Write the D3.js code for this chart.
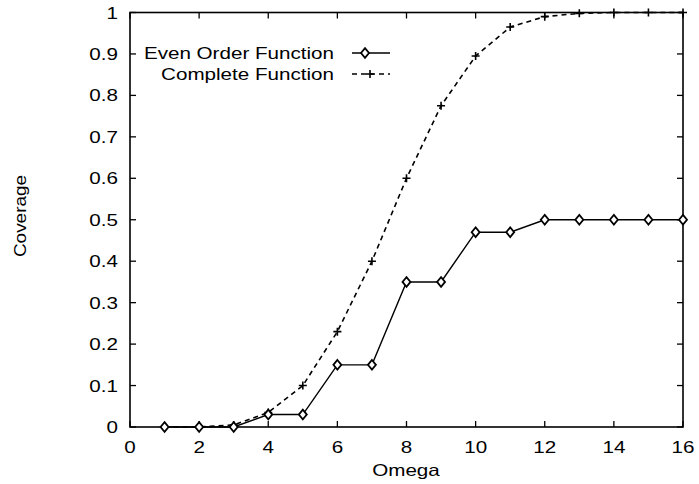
<!DOCTYPE html>
<html>
<head>
<meta charset="utf-8">
<script src="https://cdn.jsdelivr.net/npm/d3@7"></script>
<style>
  body { margin: 0; background: #fff; }
  svg { display: block; }
  .lbl { font-family: 'Liberation Sans', Arial, sans-serif; font-size: 16.5px; fill: #000; }
</style>
</head>
<body>
<svg class="chart" width="699" height="484"></svg>
<script>
const omega = [1, 2, 3, 4, 5, 6, 7, 8, 9, 10, 11, 12, 13, 14, 15, 16];
const evenOrder = [0, 0, 0, 0.03, 0.03, 0.15, 0.15, 0.35, 0.35, 0.47, 0.47, 0.5, 0.5, 0.5, 0.5, 0.5];
const complete = [0, 0, 0.005, 0.035, 0.1, 0.23, 0.4, 0.6, 0.775, 0.895, 0.965, 0.99, 0.998, 1, 1, 1];
const xTicks = [0, 2, 4, 6, 8, 10, 12, 14, 16];
const yTicks = [0, 0.1, 0.2, 0.3, 0.4, 0.5, 0.6, 0.7, 0.8, 0.9, 1];
const seriesNames = ['Even Order Function', 'Complete Function'];

const stretch = 1.25;

// fonts are narrower than the scanned Helvetica, so stretch text horizontally
const addText = (g, x, y, str, anchor) => g.append('text')
  .classed('lbl', true)
  .attr('text-anchor', anchor)
  .attr('transform', `translate(${x}, ${y}) scale(${stretch}, 1)`)
  .text(str);

const startApp = () => {
  const svg = d3.select('.chart');
  const plot = { left: 130, right: 683, top: 12.5, bottom: 427 };
  const xScale = d3.scaleLinear().domain([0, 16]).range([plot.left, plot.right]);
  const yScale = d3.scaleLinear().domain([0, 1]).range([plot.bottom, plot.top]);
  const tick = 6;

  // frame
  svg.append('rect')
    .attr('x', plot.left).attr('y', plot.top)
    .attr('width', plot.right - plot.left).attr('height', plot.bottom - plot.top)
    .attr('fill', 'none').attr('stroke', '#000').attr('stroke-width', 1.6);

  // inward ticks on all sides
  const ticks = svg.append('g').attr('stroke', '#000').attr('stroke-width', 1.3);
  xTicks.forEach((v) => {
    ticks.append('line').attr('x1', xScale(v)).attr('x2', xScale(v))
      .attr('y1', plot.bottom).attr('y2', plot.bottom - tick);
    ticks.append('line').attr('x1', xScale(v)).attr('x2', xScale(v))
      .attr('y1', plot.top).attr('y2', plot.top + tick);
    addText(svg, xScale(v), plot.bottom + 26, v, 'middle');
  });
  yTicks.forEach((v) => {
    ticks.append('line').attr('y1', yScale(v)).attr('y2', yScale(v))
      .attr('x1', plot.left).attr('x2', plot.left + tick);
    ticks.append('line').attr('y1', yScale(v)).attr('y2', yScale(v))
      .attr('x1', plot.right).attr('x2', plot.right - tick);
    addText(svg, 118, yScale(v) + 6, v === 0 || v === 1 ? v : v.toFixed(1), 'end');
  });

  addText(svg, 406, 476, 'Omega', 'middle');
  svg.append('text')
    .classed('lbl', true)
    .attr('text-anchor', 'middle')
    .attr('transform', `translate(26, 216) rotate(-90) scale(1.15, 1)`)
    .text('Coverage');

  const line = d3.line()
    .x((d, i) => xScale(omega[i]))
    .y((d) => yScale(d));

  svg.append('path').datum(complete)
    .attr('d', line).attr('fill', 'none').attr('stroke', '#000')
    .attr('stroke-width', 1.6).attr('stroke-dasharray', '5,4');
  svg.append('path').datum(evenOrder)
    .attr('d', line).attr('fill', 'none').attr('stroke', '#000')
    .attr('stroke-width', 1.4);

  const diamond = d3.symbol().type(d3.symbolDiamond).size(30);

  const drawPlus = (g, x, y) => g.append('path')
    .attr('d', `M${x - 4},${y}H${x + 4}M${x},${y - 4}V${y + 4}`)
    .attr('stroke', '#000').attr('stroke-width', 1.6);
  const drawDiamond = (g, x, y) => g.append('path')
    .attr('d', diamond())
    .attr('transform', `translate(${x}, ${y}) scale(1.35, 0.95)`)
    .attr('fill', '#fff').attr('stroke', '#000').attr('stroke-width', 1.5);

  const marks = svg.append('g');
  complete.forEach((v, i) => drawPlus(marks, xScale(omega[i]), yScale(v)));
  evenOrder.forEach((v, i) => drawDiamond(marks, xScale(omega[i]), yScale(v)));

  // legend
  addText(svg, 334, 59, seriesNames[0], 'end');
  addText(svg, 334, 80, seriesNames[1], 'end');
  svg.append('line').attr('x1', 352).attr('x2', 390).attr('y1', 53).attr('y2', 53)
    .attr('stroke', '#000').attr('stroke-width', 1.4);
  drawDiamond(svg, 365, 53);
  svg.append('line').attr('x1', 352).attr('x2', 390).attr('y1', 74).attr('y2', 74)
    .attr('stroke', '#000').attr('stroke-width', 1.6).attr('stroke-dasharray', '5,4');
  drawPlus(svg, 370, 74);
};

window.onload = startApp;
</script>
</body>
</html>
